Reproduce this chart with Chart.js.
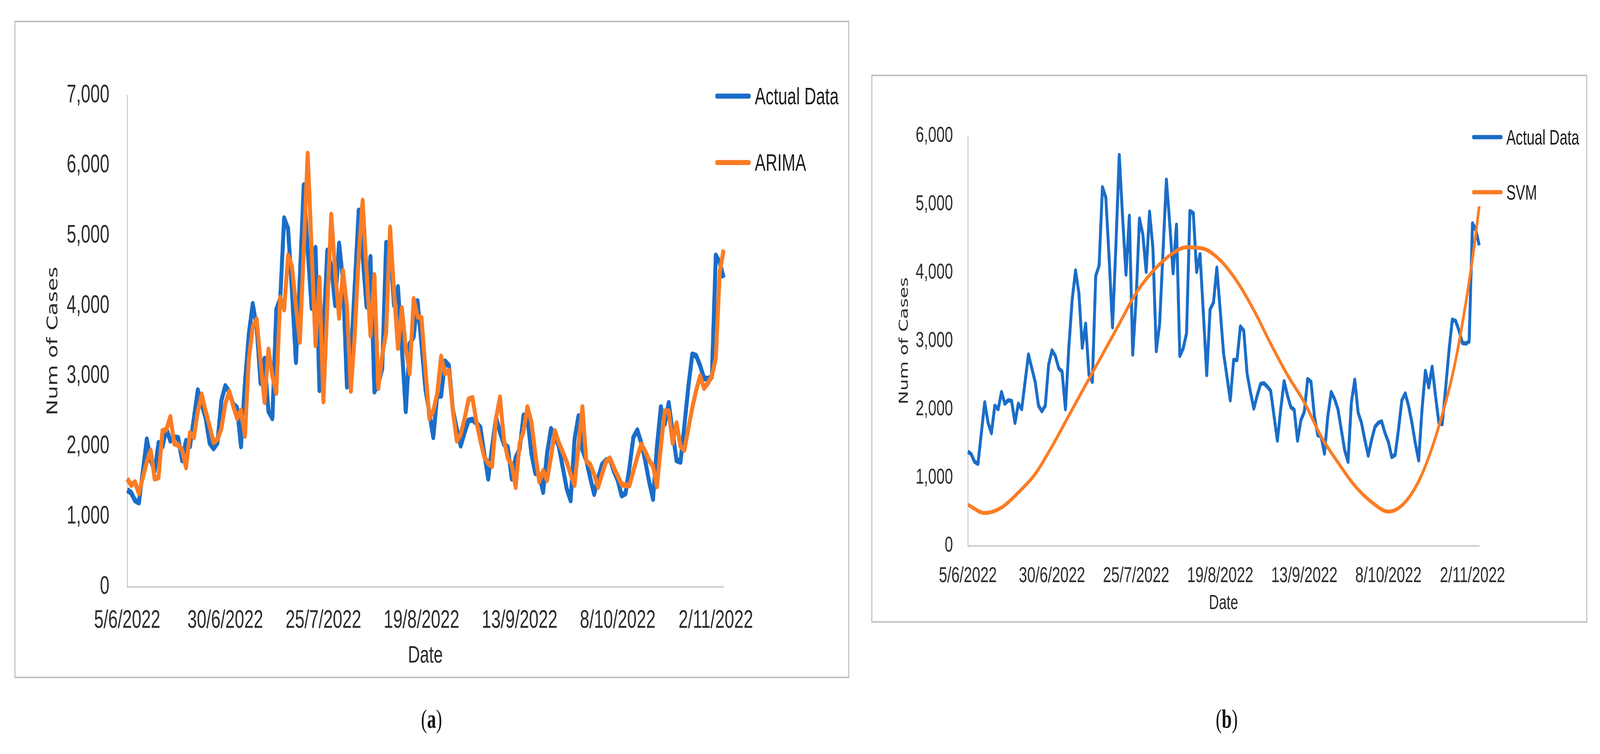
<!DOCTYPE html>
<html>
<head>
<meta charset="utf-8">
<title>Actual data vs ARIMA and SVM</title>
<script src="https://cdn.jsdelivr.net/npm/chart.js@4.4.0/dist/chart.umd.min.js"></script>
<style>
    html, body { margin: 0; padding: 0; background: #fff; overflow: hidden; }
    #page { position: absolute; left: 0; top: 0; width: 6014px; height: 1930px; background: #fff; transform-origin: 0 0; font-family: 'Liberation Sans', Arial, sans-serif; }
    .frame { position: absolute; border: 4px solid #c0c0c0; box-sizing: border-box; }
    canvas { position: absolute; }
    .legend-item { position: absolute; display: flex; align-items: center; color: #1a1a1a; white-space: nowrap; transform: translateY(-50%); line-height: 1; }
    .swatch { border-radius: 7px; }
    .caption { position: absolute; font-family: 'Liberation Serif', 'Times New Roman', serif; font-size: 68px; line-height: 1; transform: translateX(-50%); color: #111; }
</style>
</head>
<body>
<div id="page">
    <div class="frame" style="left:54px; top:53px; width:3138px; height:1683px;"></div>
    <canvas id="chart-a" width="3138" height="1683" style="left:54px; top:53px;"></canvas>

    <div class="frame" style="left:3275px; top:191px; width:2691px; height:1403px;"></div>
    <canvas id="chart-b" width="2691" height="1403" style="left:3275px; top:191px;"></canvas>

    <div class="legend-item" style="left:2688px; top:246px; font-size:61px;">
        <div class="swatch" style="width:134px; height:13px; background:#1a6dc8; margin-right:15px;"></div>Actual Data
    </div>
    <div class="legend-item" style="left:2688px; top:416px; font-size:61px;">
        <div class="swatch" style="width:134px; height:13px; background:#fb7c24; margin-right:15px;"></div>ARIMA
    </div>

    <div class="legend-item" style="left:5533px; top:351px; font-size:53px;">
        <div class="swatch" style="width:115px; height:11px; background:#1a6dc8; margin-right:14px;"></div>Actual Data
    </div>
    <div class="legend-item" style="left:5533px; top:492px; font-size:53px;">
        <div class="swatch" style="width:115px; height:11px; background:#fb7c24; margin-right:14px;"></div>SVM
    </div>

    <div class="caption" style="left:1622px; top:1806px;">(<b>a</b>)</div>
    <div class="caption" style="left:4611px; top:1806px;">(<b>b</b>)</div>
</div>

<script>
// the window can be narrower than the 6014x1930 figure, so fit the page to it
var page = document.getElementById('page');
page.style.transform = 'scale(' + (window.innerWidth / 6014) + ',' + (window.innerHeight / 1930) + ')';

// daily cases from 5/6/2022, one value per day
var actualData = [
    1380, 1340, 1230, 1200, 1650, 2100, 1800, 1650, 2050, 2000,
    2250, 2080, 2130, 2120, 1800, 2080, 2000, 2400, 2800, 2600,
    2400, 2050, 1970, 2050, 2650, 2860, 2780, 2600, 2550, 2000,
    2900, 3600, 4030, 3700, 2900, 3250, 2500, 2400, 3950, 4100,
    5250, 5100, 4200, 3200, 4400, 5720, 4800, 3970, 4830, 2800,
    3600, 4790, 4560, 4010, 4890, 4360, 2850, 3250, 4300, 5360,
    4720, 3990, 4700, 2780, 2890, 3110, 4900, 4870, 4010, 4270,
    3400, 2500, 3460, 3560, 4070, 3450, 2820, 2480, 2130, 2720,
    2720, 3210, 3150, 2520, 2250, 2010, 2200, 2370, 2380, 2330,
    2270, 1900, 1540, 2000, 2410, 2200, 2030, 1990, 1540, 1840,
    1960, 2440, 2400, 1900, 1620, 1600, 1350, 1900, 2250, 2150,
    2000, 1700, 1400, 1230, 2100, 2430, 1950, 1800, 1550, 1320,
    1550, 1740, 1800, 1820, 1650, 1520, 1300, 1330, 1700, 2130,
    2230, 2050, 1800, 1500, 1250, 2000, 2560, 2320, 2620, 2200,
    1800, 1780, 2300, 2850, 3310, 3290, 3150, 2970, 2960, 2990,
    4720, 4620, 4400
];

var arimaData = [
    1540, 1450, 1490, 1330, 1560, 1780, 1940, 1540, 1560, 2220,
    2240, 2420, 2040, 2020, 1950, 1700, 2190, 2130, 2500, 2740,
    2500, 2290, 2060, 2100, 2250, 2600, 2780, 2580, 2400, 2510,
    2150, 3240, 3700, 3810, 3200, 2630, 3380, 3000, 2760, 4120,
    3950, 4720, 4560, 4000, 3490, 4800, 6170, 4800, 3440, 4400,
    2640, 4000, 5300, 4500, 3830, 4500, 4000, 2790, 3600, 4700,
    5500, 4500, 3580, 4440, 2830, 3300, 3620, 5120, 4200, 3400,
    3970, 3400, 3040, 4100, 3850, 3830, 3100, 2400, 2500, 2750,
    3280, 3040, 3080, 2500, 2080, 2170, 2400, 2670, 2690, 2350,
    2080, 1850, 1760, 1720, 2400, 2700, 2100, 1830, 1740, 1420,
    2040, 2220, 2560, 2350, 1900, 1500, 1650, 1520, 1850, 2220,
    2050, 1920, 1780, 1600, 1450, 2000, 2560, 1790, 1740, 1600,
    1420, 1600, 1780, 1830, 1700, 1580, 1460, 1445, 1445, 1650,
    1850, 2030, 1930, 1800, 1720, 1430, 2000, 2500, 2500, 2050,
    2330, 2000, 1950, 2250, 2550, 2800, 3000, 2830, 2900, 3000,
    3260, 4480, 4800
];

// SVM curve read every 5 days (day index from 5/6/2022)
var svmDays = [0, 5, 10, 15, 20, 25, 30, 35, 40, 45, 50, 55, 60, 65, 70, 75, 80, 85, 90, 95,
    100, 105, 110, 115, 120, 125, 130, 135, 140, 145, 150, 152];
var svmValues = [600, 480, 560, 780, 1050, 1455, 1905, 2354, 2800, 3250, 3700, 4020, 4250, 4370, 4350, 4180, 3870, 3450, 2960, 2500,
    2100, 1600, 1220, 880, 640, 500, 640, 1050, 1750, 2720, 4200, 4970];

var tickLabels = ['5/6/2022', '30/6/2022', '25/7/2022', '19/8/2022', '13/9/2022', '8/10/2022', '2/11/2022'];

var dateLabels = [];
for (var i = 0; i < actualData.length; i++) {
    var d = new Date(2022, 5, 5 + i);
    dateLabels.push(d.getDate() + '/' + (d.getMonth() + 1) + '/' + d.getFullYear());
}

var svmPoints = svmDays.map(function (day, k) {
    return { x: dateLabels[day], y: svmValues[k] };
});

var blue = '#1a6dc8';
var orange = '#fb7c24';
var axisColor = '#bfbfbf';
var textColor = '#2b2b2b';
var tickFont = "'Liberation Sans', Arial, sans-serif";
var titleFont = "'DejaVu Sans', Verdana, sans-serif";

function makeChart(id, opt) {
    var ctx = document.getElementById(id).getContext('2d');
    return new Chart(ctx, {
        type: 'line',
        data: {
            labels: dateLabels,
            datasets: opt.datasets
        },
        options: {
            responsive: false,
            animation: false,
            devicePixelRatio: 1,
            layout: { padding: { top: opt.top, right: opt.right, left: 0, bottom: 0 } },
            plugins: {
                legend: { display: false },
                tooltip: { enabled: false }
            },
            elements: { point: { radius: 0 } },
            scales: {
                x: {
                    grid: { display: false, drawTicks: false },
                    border: { color: axisColor, width: 3 },
                    ticks: {
                        autoSkip: false,
                        maxRotation: 0,
                        padding: opt.xPad,
                        color: textColor,
                        font: { family: tickFont, size: opt.tickSize },
                        callback: function (value) {
                            var lab = this.getLabelForValue(value);
                            return tickLabels.indexOf(lab) >= 0 ? lab : null;
                        }
                    },
                    title: {
                        display: true,
                        text: 'Date',
                        color: textColor,
                        font: { family: tickFont, size: opt.dateSize },
                        padding: { top: 0, bottom: opt.dateBottom }
                    },
                    afterFit: function (scale) { scale.height = opt.xHeight; }
                },
                y: {
                    min: 0,
                    max: opt.yMax,
                    grid: { display: false, drawTicks: false },
                    border: { color: axisColor, width: 3 },
                    ticks: {
                        stepSize: 1000,
                        padding: opt.yPad,
                        color: textColor,
                        font: { family: tickFont, size: opt.tickSize },
                        callback: function (value) { return value.toLocaleString('en-US'); }
                    },
                    title: {
                        display: true,
                        text: 'Num of Cases',
                        color: textColor,
                        font: { family: titleFont, size: opt.ySize },
                        padding: { top: opt.yTitlePad, bottom: 0 }
                    },
                    afterFit: function (scale) { scale.width = opt.yWidth; }
                }
            }
        }
    });
}

makeChart('chart-a', {
    top: 191, right: 472, yWidth: 424, xHeight: 234,
    yMax: 7000, tickSize: 64, xPad: 49, yPad: 67,
    dateSize: 62, dateBottom: 20, ySize: 55, yTitlePad: 114,
    datasets: [{
        label: 'Actual Data',
        data: actualData,
        borderColor: blue,
        borderWidth: 15,
        borderJoinStyle: 'round',
        tension: 0,
        order: 2
    }, {
        label: 'ARIMA',
        data: arimaData,
        borderColor: orange,
        borderWidth: 15,
        borderJoinStyle: 'round',
        tension: 0,
        order: 1
    }]
});

makeChart('chart-b', {
    top: 157, right: 406, yWidth: 363, xHeight: 197,
    yMax: 6000, tickSize: 56, xPad: 44, yPad: 56,
    dateSize: 52, dateBottom: 18, ySize: 47, yTitlePad: 97,
    datasets: [{
        label: 'Actual Data',
        data: actualData,
        borderColor: blue,
        borderWidth: 11,
        borderJoinStyle: 'round',
        tension: 0,
        order: 2
    }, {
        label: 'SVM',
        data: svmPoints,
        borderColor: orange,
        borderWidth: 10,
        cubicInterpolationMode: 'monotone',
        order: 1
    }]
});
</script>
</body>
</html>
